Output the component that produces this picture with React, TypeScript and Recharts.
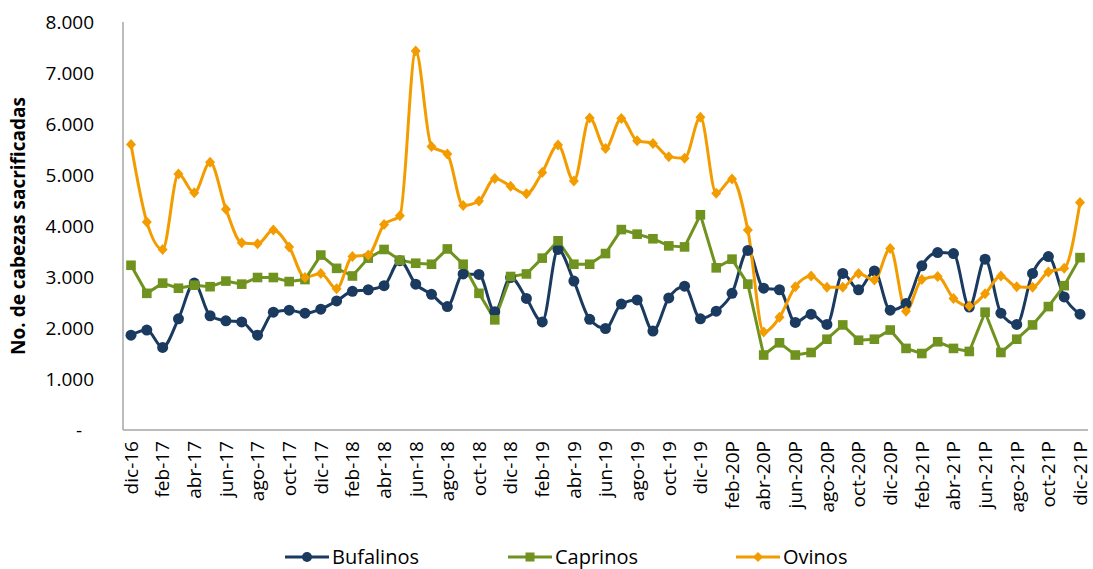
import React from 'react'
import { LineChart, Line, XAxis, YAxis, Legend, Label } from 'recharts'

const months = [
  'dic-16',
  'ene-17', 'feb-17', 'mar-17', 'abr-17', 'may-17', 'jun-17', 'jul-17', 'ago-17', 'sep-17', 'oct-17', 'nov-17', 'dic-17',
  'ene-18', 'feb-18', 'mar-18', 'abr-18', 'may-18', 'jun-18', 'jul-18', 'ago-18', 'sep-18', 'oct-18', 'nov-18', 'dic-18',
  'ene-19', 'feb-19', 'mar-19', 'abr-19', 'may-19', 'jun-19', 'jul-19', 'ago-19', 'sep-19', 'oct-19', 'nov-19', 'dic-19',
  'ene-20P', 'feb-20P', 'mar-20P', 'abr-20P', 'may-20P', 'jun-20P', 'jul-20P', 'ago-20P', 'sep-20P', 'oct-20P', 'nov-20P', 'dic-20P',
  'ene-21P', 'feb-21P', 'mar-21P', 'abr-21P', 'may-21P', 'jun-21P', 'jul-21P', 'ago-21P', 'sep-21P', 'oct-21P', 'nov-21P', 'dic-21P',
]

const bufalinos = [
  1860, 1960, 1620, 2180, 2880, 2240, 2140, 2120, 1860, 2310, 2350, 2290, 2370,
  2530, 2720, 2750, 2830, 3320, 2860, 2660, 2420, 3060, 3050, 2320, 2990,
  2580, 2120, 3540, 2920, 2170, 1990, 2470, 2550, 1940, 2590, 2820, 2180,
  2330, 2680, 3520, 2780, 2750, 2110, 2270, 2070, 3070, 2750, 3120, 2350,
  2480, 3220, 3480, 3460, 2410, 3350, 2290, 2070, 3070, 3400, 2610, 2270,
]

const caprinos = [
  3230, 2680, 2880, 2780, 2840, 2810, 2920, 2860, 2990, 2990, 2910, 2950, 3430,
  3170, 3020, 3370, 3540, 3330, 3270, 3250, 3550, 3250, 2680, 2160, 3010,
  3060, 3370, 3710, 3250, 3250, 3460, 3930, 3840, 3750, 3610, 3590, 4220,
  3180, 3350, 2860, 1470, 1710, 1470, 1520, 1780, 2060, 1760, 1780, 1960,
  1600, 1500, 1730, 1600, 1540, 2310, 1520, 1780, 2060, 2420, 2830, 3380,
]

const ovinos = [
  5600, 4080, 3540, 5020, 4650, 5250, 4330, 3670, 3650, 3920, 3590, 2990, 3070,
  2770, 3400, 3430, 4030, 4200, 7430, 5560, 5410, 4400, 4490, 4930, 4780,
  4630, 5050, 5590, 4880, 6120, 5520, 6110, 5670, 5620, 5360, 5330, 6130,
  4640, 4920, 3920, 1920, 2210, 2810, 3020, 2800, 2800, 3070, 2940, 3560,
  2330, 2950, 3010, 2580, 2430, 2670, 3020, 2810, 2800, 3100, 3170, 4460,
]

const yTicks = [0, 1000, 2000, 3000, 4000, 5000, 6000, 7000, 8000]

const data = months.map((m, i) => ({
  mes: m,
  Bufalinos: bufalinos[i],
  Caprinos: caprinos[i],
  Ovinos: ovinos[i],
}))

const FONT = '"Open Sans", "Noto Sans", sans-serif'
const BLUE = '#1a3a5f'
const GREEN = '#70921e'
const ORANGE = '#f39c00'
const AXIS = '#a6a6a6'

const fmt = (v: number) => String(v).replace(/\B(?=(\d{3})+(?!\d))/g, '.')

const Circle = (p: any) => (
  <circle key={'c' + p.index} cx={p.cx} cy={p.cy} r={5.5} fill={BLUE} />
)
const Square = (p: any) => (
  <rect key={'s' + p.index} x={p.cx - 4.8} y={p.cy - 4.8} width={9.6} height={9.6} fill={GREEN} />
)
const Diamond = (p: any) => (
  <path
    key={'d' + p.index}
    d={`M${p.cx},${p.cy - 5.5}L${p.cx + 5},${p.cy}L${p.cx},${p.cy + 5.5}L${p.cx - 5},${p.cy}Z`}
    fill={ORANGE}
  />
)

const XTick = ({ x, y, payload }: any) => (
  <text
    x={x}
    y={y}
    transform={`rotate(-90, ${x}, ${y})`}
    textAnchor="end"
    dy="0.36em"
    fontSize={19}
    fontFamily={FONT}
    fill="#000"
  >
    {payload.value}
  </text>
)

const YTick = ({ x, y, payload }: any) => (
  <text
    x={payload.value === 0 ? x - 12 : x}
    y={y}
    textAnchor="end"
    dominantBaseline="central"
    fontSize={19}
    fontFamily={FONT}
    fill="#000"
  >
    {payload.value === 0 ? '-' : fmt(payload.value)}
  </text>
)

const legendItems = [
  { name: 'Bufalinos', color: BLUE, shape: 'circle', width: 223 },
  { name: 'Caprinos', color: GREEN, shape: 'square', width: 228 },
  { name: 'Ovinos', color: ORANGE, shape: 'diamond', width: 150 },
]

const LegendIcon = ({ color, shape }: { color: string; shape: string }) => (
  <svg width={44} height={14} style={{ display: 'block' }}>
    <line x1={0} y1={7} x2={44} y2={7} stroke={color} strokeWidth={3} />
    {shape === 'circle' && <circle cx={22} cy={7} r={5} fill={color} />}
    {shape === 'square' && <rect x={17.5} y={2.5} width={9} height={9} fill={color} />}
    {shape === 'diamond' && <path d="M22,2L27,7L22,12L17,7Z" fill={color} />}
  </svg>
)

const CustomLegend = () => (
  <div
    style={{
      height: 40,
      paddingTop: 15,
      paddingLeft: 285,
      boxSizing: 'border-box',
      display: 'flex',
      fontFamily: FONT,
      fontSize: 20,
      lineHeight: '22px',
      color: '#000',
    }}
  >
    {legendItems.map((it) => (
      <div key={it.name} style={{ display: 'flex', alignItems: 'center', width: it.width }}>
        <LegendIcon color={it.color} shape={it.shape} />
        <span style={{ marginLeft: 3 }}>{it.name}</span>
      </div>
    ))}
  </div>
)

export default function App() {
  return (
    <div style={{ position: 'absolute', left: 0, top: 0, background: '#fff' }}>
      <LineChart
        width={1093}
        height={569}
        data={data}
        margin={{ top: 22, right: 5, bottom: 0, left: 0 }}
      >
        <XAxis
          dataKey="mes"
          interval={1}
          height={99}
          padding={{ left: 8, right: 8 }}
          tick={<XTick />}
          tickLine={false}
          tickSize={0}
          tickMargin={11}
          axisLine={{ stroke: AXIS, strokeWidth: 1.5 }}
        />
        <YAxis
          width={123}
          domain={[0, 8000]}
          ticks={yTicks}
          tick={<YTick />}
          tickLine={false}
          tickSize={0}
          tickMargin={29}
          axisLine={{ stroke: AXIS, strokeWidth: 1.5 }}
        >
          <Label
            content={() => (
              <text
                x={18}
                y={226}
                transform="rotate(-90, 18, 226)"
                textAnchor="middle"
                dominantBaseline="central"
                fontSize={19}
                fontWeight="bold"
                fontFamily={FONT}
                fill="#000"
              >
                No. de cabezas sacrificadas
              </text>
            )}
          />
        </YAxis>
        <Legend verticalAlign="bottom" content={<CustomLegend />} wrapperStyle={{ left: 0, width: 1093 }} />
        <Line
          type="monotone"
          dataKey="Bufalinos"
          stroke={BLUE}
          strokeWidth={3}
          dot={Circle}
          activeDot={false}
          isAnimationActive={false}
        />
        <Line
          type="linear"
          dataKey="Caprinos"
          stroke={GREEN}
          strokeWidth={3}
          dot={Square}
          activeDot={false}
          isAnimationActive={false}
        />
        <Line
          type="monotone"
          dataKey="Ovinos"
          stroke={ORANGE}
          strokeWidth={3}
          dot={Diamond}
          activeDot={false}
          isAnimationActive={false}
        />
      </LineChart>
    </div>
  )
}
